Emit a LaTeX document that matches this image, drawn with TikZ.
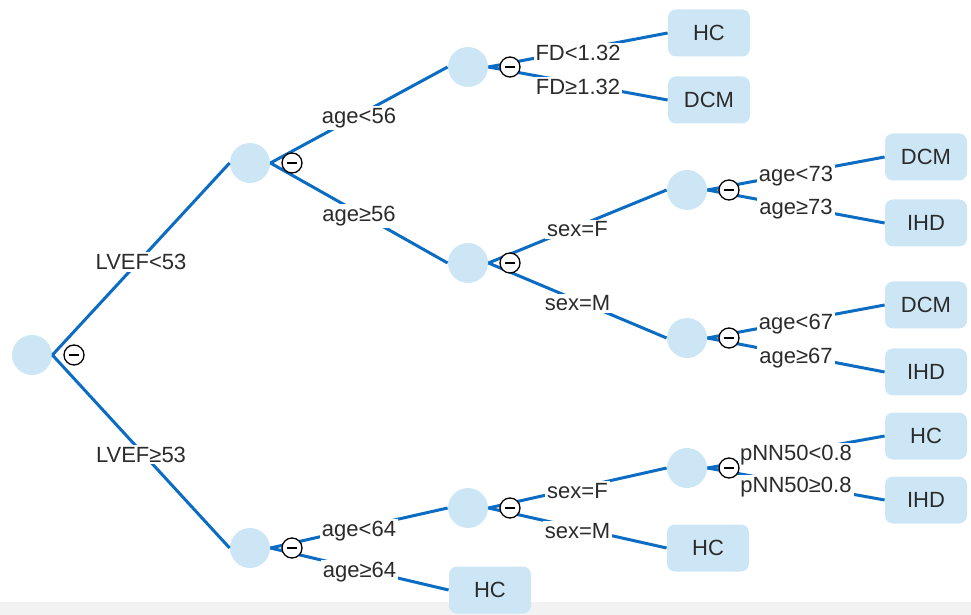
\documentclass[tikz,border=0pt]{standalone}
\usepackage{fontspec}
\setmainfont{Liberation Sans}
\definecolor{nodeblue}{HTML}{CDE6F6}
\definecolor{lineblue}{HTML}{0B6CC3}
\definecolor{textgray}{HTML}{2B2B2B}
\begin{document}
\begin{tikzpicture}
  [x=0.5pt,y=-0.5pt,font=\fontsize{11}{13}\selectfont,text=textgray,
   split/.style={circle,fill=nodeblue,minimum size=20pt,inner sep=0pt},
   leaf/.style={rounded corners=4pt,fill=nodeblue,minimum width=41pt,minimum height=23.5pt,inner sep=0pt},
   cond/.style={fill=white,inner sep=1pt,yshift=-1.5pt},
   link/.style={draw=lineblue,line width=1.5pt},
   knob/.style={circle,draw=black,fill=white,line width=0.65pt,minimum size=10pt,inner sep=0pt,
     path picture={\draw[line width=0.65pt] ([xshift=-2.5pt]path picture bounding box.center) -- ([xshift=2.5pt]path picture bounding box.center);}}]
  \useasboundingbox (0,0) rectangle (971,615);
  \fill[black!5] (0,602) rectangle (971,615);
  \node[split] (n1) at (32,355) {};
  \node[split] (n2) at (250,163) {};
  \node[split] (n3) at (250,548) {};
  \node[split] (n4) at (468,67) {};
  \node[split] (n5) at (468,263) {};
  \node[split] (n6) at (687,190) {};
  \node[split] (n7) at (687,338) {};
  \node[split] (n8) at (468,508) {};
  \node[split] (n9) at (687,468) {};
  \node[leaf] (l1) at (709,33) {HC};
  \node[leaf] (l2) at (709,100) {DCM};
  \node[leaf] (l3) at (926,157) {DCM};
  \node[leaf] (l4) at (926,223) {IHD};
  \node[leaf] (l5) at (926,305) {DCM};
  \node[leaf] (l6) at (926,372) {IHD};
  \node[leaf] (l7) at (926,436) {HC};
  \node[leaf] (l8) at (926,500) {IHD};
  \node[leaf] (l9) at (708,548) {HC};
  \node[leaf] (l10) at (490,590) {HC};
 \foreach \from/\to/\txt in {n1/n2/LVEF<53,n1/n3/LVEF≥53,n2/n4/age<56,n2/n5/age≥56,
   n4/l1/FD<1.32,n4/l2/FD≥1.32,n5/n6/sex=F,n5/n7/sex=M,n6/l3/age<73,n6/l4/age≥73,
   n7/l5/age<67,n7/l6/age≥67,n3/n8/age<64,n3/l10/age≥64,n8/n9/sex=F,n8/l9/sex=M,
   n9/l7/pNN50<0.8,n9/l8/pNN50≥0.8}
    \draw[link] (\from.east) -- node[cond] {\txt} (\to.west);
 \foreach \n in {n1,n2,n3,n4,n5,n6,n7,n8,n9}
    \node[knob] (\n-m) at ([xshift=21pt]\n.center) {};
\end{tikzpicture}
\end{document}
